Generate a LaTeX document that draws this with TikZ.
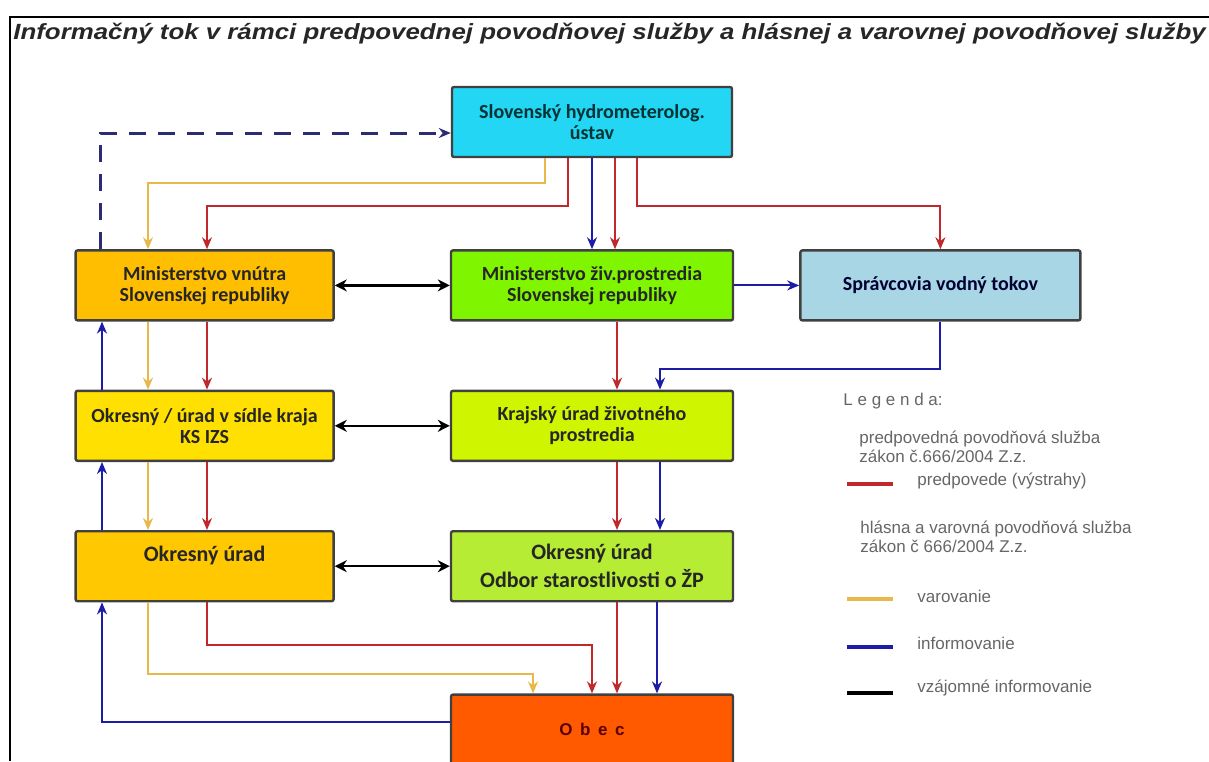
\documentclass[tikz,border=0pt]{standalone}
\usepackage{fontspec}
\setmainfont{Liberation Sans}
\newfontfamily\boxfont{Carlito}
\usetikzlibrary{positioning,arrows.meta}

\definecolor{shmucyan}{HTML}{22D6F4}
\definecolor{mvorange}{HTML}{FFBF00}
\definecolor{mzpgreen}{HTML}{7FF500}
\definecolor{sprblue}{HTML}{A9D6E4}
\definecolor{oksyellow}{HTML}{FFE000}
\definecolor{krlime}{HTML}{CFF500}
\definecolor{ouorange}{HTML}{FFC800}
\definecolor{ozplime}{HTML}{B6EC34}
\definecolor{obecred}{HTML}{FF5A00}
\definecolor{fcred}{HTML}{C0282C}
\definecolor{fcyellow}{HTML}{E8B84A}
\definecolor{fcblue}{HTML}{1C1CA8}
\definecolor{fcnavy}{HTML}{2C2C72}

\tikzset{
  box/.style={draw=black!75, line width=1.2pt, rounded corners=1pt, align=center,
    minimum height=35pt, text=black!85,
    font=\boxfont\bfseries\fontsize{10}{10.5}\selectfont},
  bigbox/.style={box, font=\boxfont\bfseries\fontsize{11}{14}\selectfont},
  fc/.style={line width=1pt, -{Stealth[length=6pt,width=5pt]}},
  predp/.style={fc, fcred},
  varov/.style={fc, fcyellow},
  inform/.style={fc, fcblue},
  vzaj/.style={line width=1.2pt, black, {Stealth[length=6pt,width=6pt]}-{Stealth[length=6pt,width=6pt]}},
  legtext/.style={anchor=west, inner sep=0pt, align=left, text=black!60, font=\fontsize{8.5}{9.5}\selectfont},
  keyline/.style={minimum width=23pt, minimum height=2pt, inner sep=0pt}
}

\begin{document}
\begin{tikzpicture}[x=0.5pt, y=-0.5pt]
\useasboundingbox (0,0) rectangle (1209,761);
\draw[line width=1.2pt] (10,761) -- (10,17) -- (1209,17);
\node[anchor=west, inner sep=0pt, text=black!85, font=\bfseries\itshape\fontsize{11}{13}\selectfont] (title) at (13,34)
  {\scalebox{1.175}[1]{Informačný tok v rámci predpovednej povodňovej služby a hlásnej a varovnej povodňovej služby}};
%----------------------------------
\node[box, fill=shmucyan, minimum width=140pt, text=black!60!teal] (shmu) at (592,122) {Slovenský hydrometerolog.\\ústav};
\node[box, fill=mzpgreen, minimum width=141pt, below=45.5pt of shmu] (mzp) {Ministerstvo živ.prostredia\\Slovenskej republiky};
\node[box, fill=mvorange, minimum width=129pt, left=57.5pt of mzp] (mv) {Ministerstvo vnútra\\Slovenskej republiky};
\node[box, fill=sprblue, minimum width=140pt, right=32.5pt of mzp, text=black!80!blue] (spr) {Správcovia vodný tokov};
%----------------------------------
\node[box, fill=krlime, minimum width=141pt, below=34pt of mzp] (kr) {Krajský úrad životného\\prostredia};
\node[box, fill=oksyellow, minimum width=129pt, below=34pt of mv] (oks) {Okresný / úrad v sídle kraja\\KS IZS};
\node[bigbox, fill=ozplime, minimum width=141pt, below=34pt of kr] (ozp) {Okresný úrad\\Odbor starostlivosti o ŽP};
\node[bigbox, fill=ouorange, minimum width=129pt, below=34pt of oks, text depth=12pt] (ou) {Okresný úrad};
\node[box, fill=obecred, minimum width=141pt, below=45.5pt of ozp, text=black!65!red, font=\fontsize{8.5}{9}\selectfont\bfseries] (obec) {O\, b\, e\, c};
%----------------------------------
\draw[inform, fcnavy, line width=1.5pt, dash pattern=on 8.5pt off 6pt] (mv.north -| 100,0) |- (shmu.west |- 0,133);
\draw[varov] (shmu.south -| 545,0) -- ++(0,25) -| (mv.north -| 148,0);
\draw[predp] (shmu.south -| 568,0) -- ++(0,48) -| (mv.north -| 207,0);
\draw[inform] (shmu.south -| 592,0) -- (mzp.north -| 592,0);
\draw[predp] (shmu.south -| 615,0) -- (mzp.north -| 615,0);
\draw[predp] (shmu.south -| 637,0) -- ++(0,48) -| (spr.north);
\draw[vzaj] (mv) -- (mzp);
\draw[inform] (mzp) -- (spr);
\draw[predp] (mzp.south -| 617,0) -- (kr.north -| 617,0);
\draw[inform] (spr.south) -- ++(0,47) -| (kr.north -| 660,0);
%----------------------------------
\draw[varov] (mv.south -| 148,0) -- (oks.north -| 148,0);
\draw[predp] (mv.south -| 207,0) -- (oks.north -| 207,0);
\draw[inform] (oks.north -| 102,0) -- (mv.south -| 102,0);
\draw[vzaj] (oks) -- (kr);
\draw[varov] (oks.south -| 148,0) -- (ou.north -| 148,0);
\draw[predp] (oks.south -| 207,0) -- (ou.north -| 207,0);
\draw[inform] (ou.north -| 102,0) -- (oks.south -| 102,0);
\draw[predp] (kr.south -| 617,0) -- (ozp.north -| 617,0);
\draw[inform] (kr.south -| 660,0) -- (ozp.north -| 660,0);
\draw[vzaj] (ou) -- (ozp);
%----------------------------------
\draw[predp] (ou.south -| 207,0) -- ++(0,43) -| (obec.north -| 592,0);
\draw[varov] (ou.south -| 148,0) -- ++(0,72) -| (obec.north -| 533,0);
\draw[predp] (ozp.south -| 617,0) -- (obec.north -| 617,0);
\draw[inform] (ozp.south -| 657,0) -- (obec.north -| 657,0);
\draw[inform] ([yshift=4pt]obec.west) -| (ou.south -| 102,0);
%---------------------------------- legenda
\node[legtext] (leg) at (843,401) {L e g e n d a:};
\node[legtext] (legpredp) at (859,447) {predpovedná povodňová služba\\zákon č.666/2004 Z.z.};
\node[keyline, fill=fcred] (keyred) at (870,484) {};
\node[legtext] (txtred) at (917,481) {predpovede (výstrahy)};
\node[legtext] (leghlas) at (860,537) {hlásna a varovná povodňová služba\\zákon č 666/2004 Z.z.};
\node[keyline, fill=fcyellow] (keyyellow) at (870,599) {};
\node[legtext] (txtyellow) at (917,596) {varovanie};
\node[keyline, fill=fcblue] (keyblue) at (870,647) {};
\node[legtext] (txtblue) at (917,643) {informovanie};
\node[keyline, fill=black] (keyblack) at (870,693) {};
\node[legtext] (txtblack) at (917,688) {vzájomné informovanie};
\end{tikzpicture}
\end{document}
